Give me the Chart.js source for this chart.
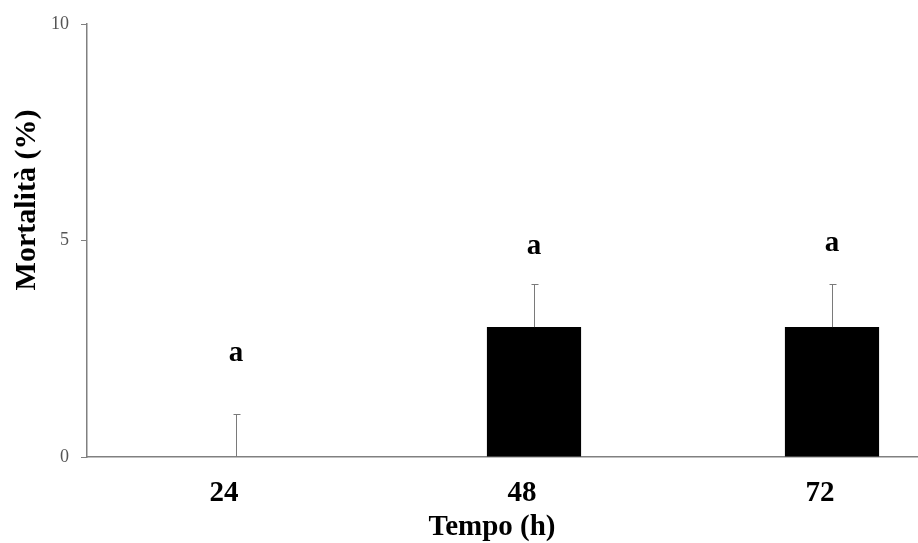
<!DOCTYPE html>
<html>
<head>
<meta charset="utf-8">
<script src="https://cdn.jsdelivr.net/npm/chart.js@4"></script>
<style>
  html, body { margin: 0; padding: 0; background: #fff; overflow: hidden; }
  #wrap { width: 918px; height: 543px; overflow: hidden; }
</style>
</head>
<body>
<div id="wrap"><canvas id="chart" width="981" height="543"></canvas></div>
<script>
// Data
const categories = ["24", "48", "72"];
const mortality = [0, 3, 3];
const errors = [1, 1, 1];
const letters = ["a", "a", "a"];
const letterLevels = [2.4, 4.85, 4.93];
const yTicks = [0, 5, 10];

const SERIF = "'Liberation Serif', 'Times New Roman', serif";
const AXIS_GREY = "#808080";

// upper error bars + significance letters + axis titles
const extrasPlugin = {
  id: "extras",
  afterDatasetsDraw(chart) {
    const ctx = chart.ctx;
    const meta = chart.getDatasetMeta(0);
    const y = chart.scales.y;
    ctx.save();
    ctx.strokeStyle = "#7a7a7a";
    ctx.lineWidth = 1;
    meta.data.forEach((bar, i) => {
      const x = Math.round(bar.x) + 0.5;
      const y0 = y.getPixelForValue(mortality[i]);
      const y1 = Math.round(y.getPixelForValue(mortality[i] + errors[i])) + 0.5;
      ctx.beginPath();
      ctx.moveTo(x, y0);
      ctx.lineTo(x, y1);
      ctx.moveTo(x - 3, y1);
      ctx.lineTo(x + 4, y1);
      ctx.stroke();
    });

    ctx.fillStyle = "#000";
    ctx.font = "bold 29px " + SERIF;
    ctx.textAlign = "center";
    ctx.textBaseline = "middle";
    meta.data.forEach((bar, i) => {
      ctx.fillText(letters[i], bar.x, y.getPixelForValue(letterLevels[i]));
    });

    // axis titles
    const area = chart.chartArea;
    ctx.fillText("Tempo (h)", chart.scales.x.getPixelForValue(1) - 42, area.bottom + 71);
    ctx.font = "bold 30px " + SERIF;
    ctx.translate(27, 200);
    ctx.rotate(-Math.PI / 2);
    ctx.fillText("Mortalità (%)", 0, 0);
    ctx.restore();
  }
};

new Chart(document.getElementById("chart"), {
  type: "bar",
  data: {
    labels: categories,
    datasets: [{
      data: mortality,
      backgroundColor: "#000",
      borderWidth: 0,
      barPercentage: 0.316,
      categoryPercentage: 1
    }]
  },
  options: {
    responsive: false,
    animation: false,
    layout: { padding: { top: 24, left: 0, right: 0, bottom: 0 } },
    plugins: {
      legend: { display: false },
      tooltip: { enabled: false }
    },
    scales: {
      x: {
        grid: { display: false, drawTicks: false },
        border: { display: true, color: AXIS_GREY, width: 1.5 },
        ticks: {
          color: "#000",
          padding: 19,
          labelOffset: -12,
          font: { family: SERIF, size: 29, weight: "bold" }
        },
        afterFit(axis) { axis.height = 86; }
      },
      y: {
        min: 0,
        max: 10,
        afterBuildTicks(axis) { axis.ticks = yTicks.map(v => ({ value: v })); },
        grid: { drawOnChartArea: false, tickLength: 6, color: AXIS_GREY },
        border: { display: true, color: AXIS_GREY, width: 1.5 },
        ticks: {
          color: "#555",
          padding: 12,
          font: { family: SERIF, size: 18 }
        },
        afterFit(axis) { axis.width = 87; }
      }
    }
  },
  plugins: [extrasPlugin]
});
</script>
</body>
</html>
